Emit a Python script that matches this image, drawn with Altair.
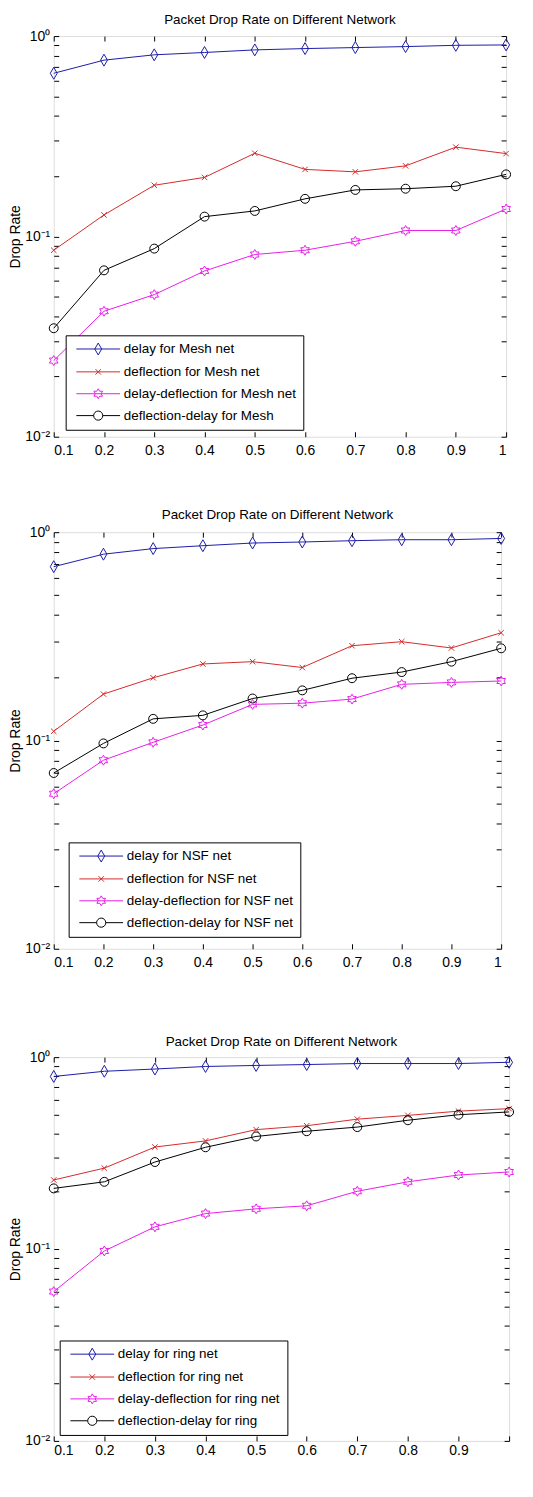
import altair as alt
import pandas as pd

# ---------------- data ----------------
x_vals = [0.1, 0.2, 0.3, 0.4, 0.5, 0.6, 0.7, 0.8, 0.9, 1.0]

mesh_names = ["delay for Mesh net", "deflection for Mesh net",
              "delay-deflection for Mesh net", "deflection-delay for Mesh"]
mesh_delay = [0.652, 0.758, 0.806, 0.828, 0.853, 0.866, 0.876, 0.886, 0.899, 0.903]
mesh_deflection = [0.0853, 0.128, 0.180, 0.197, 0.260, 0.216, 0.210, 0.225, 0.279, 0.259]
mesh_delay_deflection = [0.0240, 0.0423, 0.0512, 0.0672, 0.0812, 0.0853, 0.0945, 0.107, 0.107, 0.137]
mesh_deflection_delay = [0.0348, 0.0677, 0.0869, 0.1255, 0.134, 0.154, 0.1706, 0.173, 0.178, 0.204]

nsf_names = ["delay for NSF net", "deflection for NSF net",
             "delay-deflection for NSF net", "deflection-delay for NSF net"]
nsf_delay = [0.683, 0.784, 0.834, 0.861, 0.887, 0.897, 0.910, 0.920, 0.920, 0.933]
nsf_deflection = [0.1107, 0.167, 0.200, 0.233, 0.239, 0.224, 0.285, 0.298, 0.278, 0.329]
nsf_delay_deflection = [0.0555, 0.0804, 0.098, 0.1186, 0.149, 0.151, 0.158, 0.186, 0.190, 0.193]
nsf_deflection_delay = [0.0698, 0.0968, 0.127, 0.132, 0.159, 0.174, 0.199, 0.213, 0.239, 0.277]

ring_names = ["delay for ring net", "deflection for ring net",
              "delay-deflection for ring net", "deflection-delay for ring"]
ring_delay = [0.793, 0.844, 0.867, 0.894, 0.905, 0.915, 0.926, 0.926, 0.926, 0.940]
ring_deflection = [0.229, 0.264, 0.340, 0.366, 0.419, 0.439, 0.475, 0.497, 0.523, 0.539]
ring_delay_deflection = [0.060, 0.0977, 0.1305, 0.153, 0.162, 0.168, 0.200, 0.224, 0.243, 0.252]
ring_deflection_delay = [0.207, 0.224, 0.284, 0.339, 0.386, 0.411, 0.432, 0.469, 0.501, 0.518]

title_text = "Packet Drop Rate on Different Network"
y_title = "Drop Rate"
x_ticks = [0.1, 0.2, 0.3, 0.4, 0.5, 0.6, 0.7, 0.8, 0.9, 1.0]
y_ticks = [0.01, 0.02, 0.03, 0.04, 0.05, 0.06, 0.07, 0.08, 0.09,
           0.1, 0.2, 0.3, 0.4, 0.5, 0.6, 0.7, 0.8, 0.9, 1.0]

# ---------------- style ----------------
FONT = "Liberation Sans"
COLORS = ["#1c1ca8", "#d42a2a", "#e81ee8", "#000000"]

HEX = ("M0,-1L0.289,-0.5L0.866,-0.5L0.577,0L0.866,0.5L0.289,0.5L0,1"
       "L-0.289,0.5L-0.866,0.5L-0.577,0L-0.866,-0.5L-0.289,-0.5Z")
MARKERS = [
    ("M0,-1L0.58,0L0,1L-0.58,0Z", 144),
    ("M-1,-1L1,1M-1,1L1,-1", 30),
    (HEX, 100),
    ("M1,0A1,1 0 1,1 -1,0A1,1 0 1,1 1,0Z", 81),
]

HEX_L = ("M0,-1.25L0.361,-0.625L1.083,-0.625L0.721,0L1.083,0.625L0.361,0.625L0,1.25"
         "L-0.361,0.625L-1.083,0.625L-0.721,0L-1.083,-0.625L-0.361,-0.625Z")
LEGEND_SYMBOLS = [
    "M-5.5,0H5.5M0,-1.5L0.87,0L0,1.5L-0.87,0Z",
    "M-5.5,0H5.5M-0.7,-0.7L0.7,0.7M-0.7,0.7L0.7,-0.7",
    "M-5.5,0H5.5" + HEX_L,
    "M-5.5,0H-1.15M1.15,0H5.5M1.15,0A1.15,1.15 0 1,1 -1.15,0A1.15,1.15 0 1,1 1.15,0Z",
]

Y_LABEL_EXPR = ("datum.value > 0.99 ? '10\u2070' : (abs(datum.value - 0.1) < 1e-9 ? '10\u207b\u00b9' : "
                "(abs(datum.value - 0.01) < 1e-9 ? '10\u207b\u00b2' : ''))")

TICKS = dict(grid=False, domain=False, tickSize=5, offset=-5,
             tickColor="black", tickWidth=1)
LABELS = dict(labelFont=FONT, labelFontSize=14, labelColor="black")


def panel(names, series, width, height, legend_x, legend_y, x_label_expr, title_offset, x_label_pad):
    rows = []
    for name, vals in zip(names, series):
        for x, v in zip(x_vals, vals):
            rows.append({"load": x, "rate": v, "series": name})
    df = pd.DataFrame(rows)

    xs = alt.Scale(domain=[0.1, 1.0], nice=False, zero=False)
    ys = alt.Scale(type="log", domain=[0.01, 1.0], nice=False)
    base = alt.Chart(df)

    layers = []
    for i, (name, col, (shape, size)) in enumerate(zip(names, COLORS, MARKERS)):
        sub = base.transform_filter(alt.datum.series == name)
        if i == 0:
            xa = alt.Axis(orient="bottom", values=x_ticks, labelExpr=x_label_expr,
                          title=None, labelPadding=x_label_pad, **TICKS, **LABELS)
            ya = alt.Axis(orient="left", values=y_ticks, labelExpr=Y_LABEL_EXPR,
                          title=y_title, titleFont=FONT, titleFontSize=14,
                          titleFontWeight="normal", titleColor="black",
                          titlePadding=2, labelPadding=4, **TICKS, **LABELS)
        else:
            xa = None
            ya = None
        line = sub.mark_line(strokeWidth=1, color=col).encode(
            x=alt.X("load:Q", scale=xs, axis=xa),
            y=alt.Y("rate:Q", scale=ys, axis=ya),
        )
        pts = sub.mark_point(shape=shape, size=size, filled=False, stroke=col,
                             strokeWidth=1, opacity=1).encode(
            x=alt.X("load:Q", scale=xs, axis=None),
            y=alt.Y("rate:Q", scale=ys, axis=None),
        )
        layers += [line, pts]

    leg = alt.Legend(orient="none", legendX=legend_x, legendY=legend_y, title=None,
                     direction="vertical", strokeColor="black", fillColor="white",
                     padding=7, rowPadding=7, labelFont=FONT, labelFontSize=13.5,
                     labelColor="black", labelLimit=400, symbolSize=64,
                     symbolStrokeWidth=1, symbolOpacity=1, symbolOffset=19,
                     labelOffset=19, symbolFillColor="transparent")
    legend_layer = base.mark_point(opacity=0, filled=False).encode(
        x=alt.X("load:Q", scale=xs,
                axis=alt.Axis(orient="top", values=x_ticks, labels=False, title=None, **TICKS)),
        y=alt.Y("rate:Q", scale=ys,
                axis=alt.Axis(orient="right", values=y_ticks, labels=False, title=None, **TICKS)),
        color=alt.Color("series:N", scale=alt.Scale(domain=names, range=COLORS), legend=leg),
        shape=alt.Shape("series:N", scale=alt.Scale(domain=names, range=LEGEND_SYMBOLS), legend=leg),
    )
    layers.append(legend_layer)

    return alt.layer(*layers).resolve_axis(x="independent", y="independent").properties(
        width=width, height=height,
        title=alt.TitleParams(title_text, font=FONT, fontSize=13.5, fontWeight="normal",
                              color="black", anchor="middle", offset=title_offset),
    )


X_LABELS = "format(datum.value, '~g')"
X_LABELS_NO_END = "datum.value > 0.99 ? '' : format(datum.value, '~g')"

p1 = panel(mesh_names, [mesh_delay, mesh_deflection, mesh_delay_deflection, mesh_deflection_delay],
           455, 403, 12, 301, X_LABELS, 3, 7)
p2 = panel(nsf_names, [nsf_delay, nsf_deflection, nsf_delay_deflection, nsf_deflection_delay],
           450, 419, 15, 312, X_LABELS, 4, 7)
p3 = panel(ring_names, [ring_delay, ring_deflection, ring_delay_deflection, ring_deflection_delay],
           458, 386, 6, 285, X_LABELS_NO_END, 2, 3)


def independent(c):
    return c.resolve_scale(color="independent", shape="independent").resolve_legend(
        color="independent", shape="independent")


top_two = independent(alt.vconcat(p1, p2, spacing=49))
chart = independent(alt.vconcat(top_two, p3, spacing=64)).properties(
    padding={"left": 0, "top": 0, "right": 0, "bottom": 0}
).configure_view(stroke="black", strokeWidth=1).configure(background="white")

chart.save("out.html", embed_options={"renderer": "svg", "actions": False})
